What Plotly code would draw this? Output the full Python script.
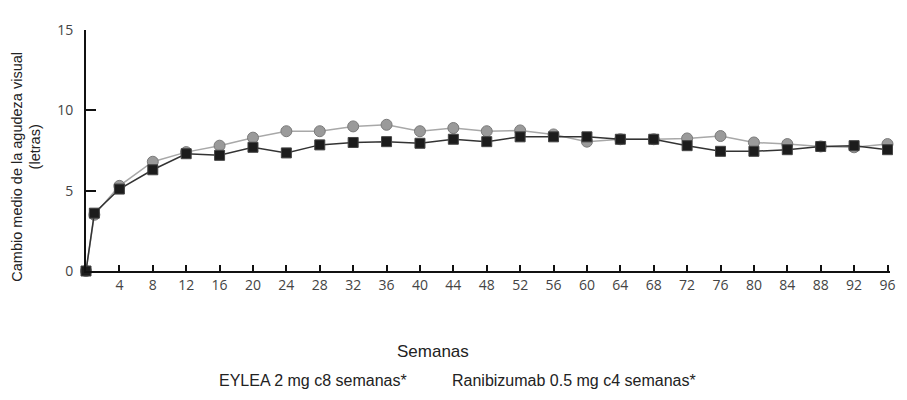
import plotly.graph_objects as go

weeks = [0, 1, 4, 8, 12, 16, 20, 24, 28, 32, 36, 40, 44, 48, 52, 56, 60, 64, 68, 72, 76, 80, 84, 88, 92, 96]
eylea = [0, 3.6, 5.1, 6.3, 7.3, 7.2, 7.7, 7.35, 7.85, 8.0, 8.05, 7.95, 8.2, 8.05, 8.35, 8.35, 8.35, 8.2, 8.2, 7.8, 7.45, 7.45, 7.55, 7.75, 7.8, 7.55]
ranibizumab = [0, 3.5, 5.3, 6.8, 7.4, 7.8, 8.3, 8.7, 8.7, 9.0, 9.1, 8.7, 8.9, 8.7, 8.75, 8.5, 8.05, 8.2, 8.2, 8.25, 8.4, 8.0, 7.9, 7.75, 7.7, 7.9]
x_ticks = [4, 8, 12, 16, 20, 24, 28, 32, 36, 40, 44, 48, 52, 56, 60, 64, 68, 72, 76, 80, 84, 88, 92, 96]
y_ticks = [0, 5, 10, 15]
eylea_name = "EYLEA 2 mg c8 semanas*"
rani_name = "Ranibizumab 0.5 mg c4 semanas*"

fig = go.Figure()
fig.add_trace(go.Scatter(
    x=weeks, y=ranibizumab, name=rani_name, mode="lines+markers",
    line=dict(color="#a8a8a8", width=1.5),
    marker=dict(symbol="circle", size=11, color="#9a9a9a", line=dict(color="#7a7a7a", width=1)),
    cliponaxis=False, showlegend=False))
fig.add_trace(go.Scatter(
    x=weeks, y=eylea, name=eylea_name, mode="lines+markers",
    line=dict(color="#333333", width=1.5),
    marker=dict(symbol="square", size=10, color="#1c1c1c", line=dict(color="#444444", width=1)),
    cliponaxis=False, showlegend=False))

# page body has an 8px margin; figure is sized/offset to compensate
OFF = 8
W, H = 907 - OFF, 400 - OFF
L, T = 86 - OFF, 20 - OFF
R = W - (894 - OFF)
B = H - (271 - OFF)
pw = W - L - R
ph = H - T - B

def px(x):
    return (x - OFF - L) / pw

def py(y):
    return (H - B - (y - OFF)) / ph

annos = [
    dict(text="Cambio medio de la agudeza visual", x=px(17), y=py(162), textangle=-90,
         font=dict(size=14.5, color="#222")),
    dict(text="(letras)", x=px(35), y=py(142), textangle=-90, font=dict(size=14.5, color="#222")),
    dict(text="Semanas", x=px(435), y=py(355), font=dict(size=17, color="#222")),
    dict(text=eylea_name, x=px(314), y=py(385), font=dict(size=16, color="#222")),
    dict(text=rani_name, x=px(576), y=py(385), font=dict(size=16, color="#222")),
]
for a in annos:
    a.update(xref="paper", yref="paper", showarrow=False, xanchor="center", yanchor="middle",
             font=dict(family="Liberation Sans, Arial", **a["font"]))

fig.update_layout(
    width=W, height=H,
    margin=dict(l=L, r=R, t=T, b=B),
    paper_bgcolor="white", plot_bgcolor="white",
    font=dict(family="Liberation Sans, Arial", color="#222"),
    annotations=annos,
    xaxis=dict(range=[0, 96.3], tickvals=x_ticks, ticktext=[str(v) for v in x_ticks],
               showgrid=False, zeroline=False, showline=True, linecolor="#111", linewidth=2,
               ticks="inside", ticklen=6, tickwidth=2, tickcolor="#111",
               tickfont=dict(family="Open Sans", size=14, color="#444")),
    yaxis=dict(range=[0, 15], tickvals=y_ticks, showgrid=False, zeroline=False,
               showline=True, linecolor="#111", linewidth=2,
               ticks="inside", ticklen=10, tickwidth=2, tickcolor="#111",
               ticklabelstandoff=8,
               tickfont=dict(family="Open Sans", size=14, color="#444")),
)

fig.write_html("out.html")
